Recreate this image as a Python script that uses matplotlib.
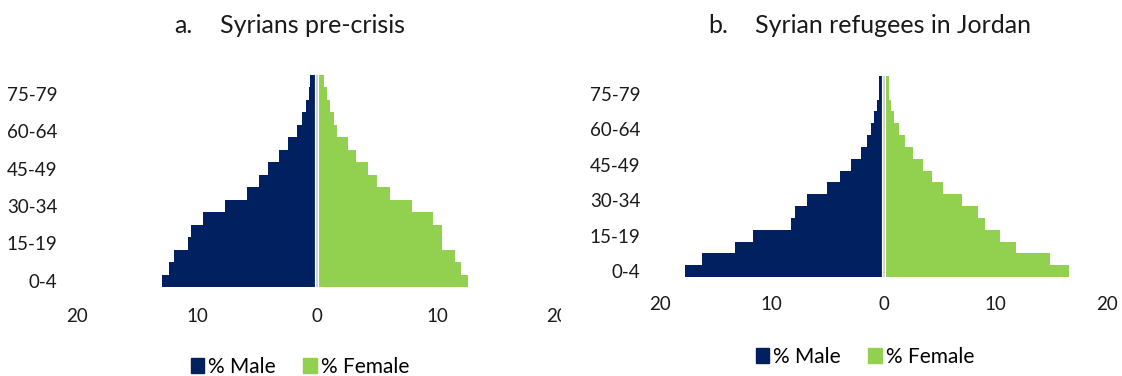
import numpy as np
import matplotlib
matplotlib.use("Agg")
import matplotlib.pyplot as plt
from matplotlib.patches import Patch
from matplotlib.transforms import Bbox, TransformedBbox

# age groups, bottom to top
ages = ['0-4', '5-9', '10-14', '15-19', '20-24', '25-29', '30-34', '35-39',
        '40-44', '45-49', '50-54', '55-59', '60-64', '65-69', '70-74', '75-79', '80+']

# a. Syrians pre-crisis (% of population)
male_pre = [12.9, 12.3, 11.9, 10.75, 10.5, 9.5, 7.65, 5.8, 4.8, 4.05,
            3.15, 2.45, 1.67, 1.25, 0.95, 0.7, 0.58]
female_pre = [12.6, 12.0, 11.5, 10.45, 10.4, 9.7, 7.9, 6.1, 5.0, 4.25,
              3.28, 2.6, 1.7, 1.39, 1.08, 0.83, 0.62]

# b. Syrian refugees in Jordan (% of population)
male_jor = [17.8, 16.25, 13.27, 11.72, 8.24, 7.91, 6.87, 5.09, 3.87, 2.95,
            2.0, 1.48, 1.16, 0.86, 0.56, 0.4, 0.38]
female_jor = [16.6, 14.9, 11.9, 10.39, 9.05, 8.48, 7.05, 5.3, 4.38, 3.57,
              2.65, 1.96, 1.43, 0.98, 0.69, 0.5, 0.48]

xticks = [-20, -10, 0, 10, 20]
xtick_labels = ['20', '10', '0', '10', '20']
label_idx = [0, 3, 6, 9, 12, 15]

navy = '#002060'
green = '#92D050'

plt.rcParams['font.family'] = ['Lato', 'DejaVu Sans']

W, H = 1122, 376
fig = plt.figure(figsize=(W / 100, H / 100), dpi=100)


def px_axes(x0, x1, y0, y1):
    return fig.add_axes([x0 / W, 1 - y1 / H, (x1 - x0) / W, (y1 - y0) / H])


def pyramid(ax, male, female, xpad):
    y = np.arange(len(ages))
    ax.barh(y, -np.array(male), height=1.0, color=navy, linewidth=0)
    ax.barh(y, female, height=1.0, color=green, linewidth=0)
    ax.axvline(0, color='white', lw=3.0, zorder=3)
    ax.axvline(0, color='#d0d0d0', lw=1.3, zorder=4)
    ax.set_xlim(-20, 20)
    ax.set_ylim(-0.5, len(ages) - 0.5)
    ax.set_yticks(label_idx)
    ax.set_yticklabels([ages[i] for i in label_idx])
    ax.set_xticks(xticks)
    ax.set_xticklabels(xtick_labels)
    ax.tick_params(axis='y', length=0, pad=14, labelsize=13.5, colors='#1a1a1a')
    ax.tick_params(axis='x', length=0, pad=xpad, labelsize=13.5, colors='#1a1a1a')
    for s in ax.spines.values():
        s.set_visible(False)


ax1 = px_axes(77, 557, 75, 287)
pyramid(ax1, male_pre, female_pre, 15)
ax2 = px_axes(660, 1107, 76, 277)
pyramid(ax2, male_jor, female_jor, 14)

# left panel is cut off on its right edge, clipping the last "20"
clip = TransformedBbox(Bbox([[0, 0], [561 / W, 1]]), fig.transFigure)
lbl = ax1.get_xticklabels()[-1]
lbl.set_clip_box(clip)
lbl.set_clip_on(True)

# titles
fig.text(174 / W, 1 - 33 / H, 'a.', fontsize=18, va='baseline', color='#1a1a1a')
fig.text(220 / W, 1 - 33 / H, 'Syrians pre-crisis', fontsize=18, va='baseline', color='#1a1a1a')
fig.text(708 / W, 1 - 33 / H, 'b.', fontsize=18, va='baseline', color='#1a1a1a')
fig.text(755 / W, 1 - 33 / H, 'Syrian refugees in Jordan', fontsize=18, va='baseline', color='#1a1a1a')

# legends
handles = [Patch(color=navy, label='% Male'), Patch(color=green, label='% Female')]
for cx, cy in [(300, 367), (865, 357)]:
    fig.legend(handles=handles, loc='center', bbox_to_anchor=(cx / W, 1 - cy / H),
               ncol=2, frameon=False, fontsize=15, handlelength=0.65, handleheight=0.7,
               handletextpad=0.2, columnspacing=1.3, borderpad=0)

fig.savefig('out.png', dpi=100)
